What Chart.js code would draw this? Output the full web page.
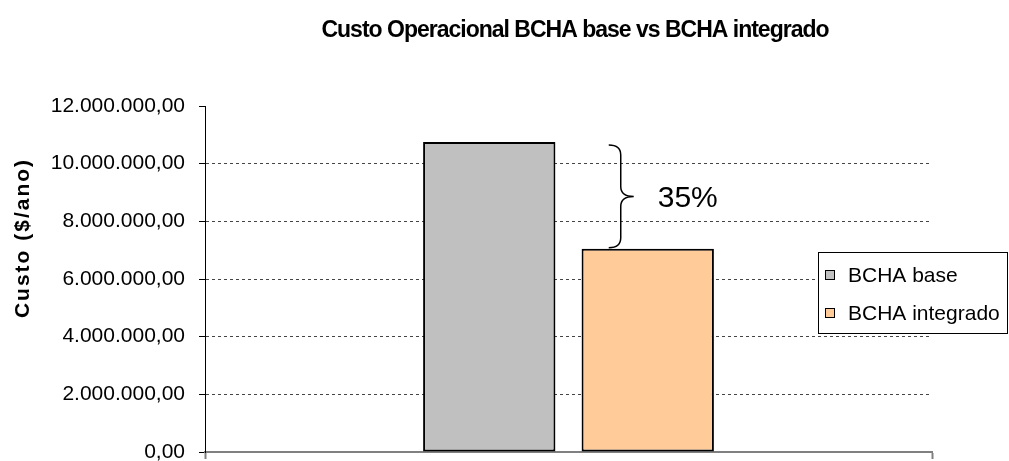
<!DOCTYPE html>
<html>
<head>
<meta charset="utf-8">
<script src="https://cdn.jsdelivr.net/npm/chart.js@4"></script>
<style>
    html, body { margin: 0; padding: 0; background: #fff; }
    #wrap { width: 1009px; height: 461px; position: relative; }
</style>
</head>
<body>
<div id="wrap"><canvas id="chart" width="1009" height="461"></canvas></div>
<script>
// ---- Data ----
const categories = [''];
const seriesNames = ['BCHA base', 'BCHA integrado'];
const baseValues = [10750000];
const integradoValues = [7050000];
const yTicks = [0, 2000000, 4000000, 6000000, 8000000, 10000000, 12000000];
const reductionLabel = '35%';

const chartTitle = 'Custo Operacional BCHA base vs BCHA integrado';
const yAxisTitle = 'Custo ($/ano)';

const FONT = "'Liberation Sans', Arial, sans-serif";

// pt-BR style number: 12.000.000,00
function formatBR(v) {
    const parts = Number(v).toFixed(2).split('.');
    const intPart = parts[0].replace(/\B(?=(\d{3})+(?!\d))/g, '.');
    return intPart + ',' + parts[1];
}

// ---- Title, axis title, brace and legend drawn on top ----
const decorations = {
    id: 'decorations',
    afterDraw(chart) {
        const ctx = chart.ctx;
        ctx.save();

        // chart title
        ctx.fillStyle = '#000';
        ctx.font = 'bold 23px ' + FONT;
        ctx.letterSpacing = '-1px';
        ctx.textAlign = 'center';
        ctx.textBaseline = 'middle';
        ctx.fillText(chartTitle, 575, 31);

        // y axis title
        ctx.save();
        ctx.translate(23, 238);
        ctx.rotate(-Math.PI / 2);
        ctx.font = 'bold 21px ' + FONT;
        ctx.letterSpacing = '2px';
        ctx.fillText(yAxisTitle, 0, 0);
        ctx.restore();
        ctx.letterSpacing = '0px';

        // brace between the two bars
        const b1 = chart.getDatasetMeta(0).data[0];
        const b2 = chart.getDatasetMeta(1).data[0];
        const x0 = b2.x - 39;
        const xs = x0 + 12;
        const xt = x0 + 25;
        const yTop = b1.y + 3;
        const yBot = b2.y - 1;
        const yMid = (yTop + yBot) / 2;
        ctx.strokeStyle = '#000';
        ctx.lineWidth = 1.5;
        ctx.beginPath();
        ctx.moveTo(x0, yTop);
        ctx.quadraticCurveTo(xs, yTop, xs, yTop + 10);
        ctx.lineTo(xs, yMid - 10);
        ctx.quadraticCurveTo(xs, yMid, xt, yMid);
        ctx.quadraticCurveTo(xs, yMid, xs, yMid + 10);
        ctx.lineTo(xs, yBot - 10);
        ctx.quadraticCurveTo(xs, yBot, x0, yBot);
        ctx.stroke();

        ctx.font = '30px ' + FONT;
        ctx.textAlign = 'left';
        ctx.fillText(reductionLabel, xt + 24, yMid + 2);

        // legend box
        const lx = 818, ly = 252, lw = 189, lh = 81;
        ctx.lineWidth = 1;
        ctx.strokeStyle = '#000';
        ctx.fillStyle = '#fff';
        ctx.fillRect(lx, ly, lw, lh);
        ctx.strokeRect(lx + 0.5, ly + 0.5, lw, lh);
        chart.data.datasets.forEach((ds, i) => {
            const cy = ly + 23 + i * 38;
            ctx.fillStyle = ds.backgroundColor;
            ctx.fillRect(825, cy - 5, 10, 10);
            ctx.strokeRect(825.5, cy - 4.5, 9, 9);
            ctx.fillStyle = '#000';
            ctx.font = '21px ' + FONT;
            ctx.textAlign = 'left';
            ctx.textBaseline = 'middle';
            ctx.fillText(ds.label, 848, cy + 1);
        });

        ctx.restore();
    }
};

// ---- Chart ----
const ctx = document.getElementById('chart').getContext('2d');
new Chart(ctx, {
    type: 'bar',
    data: {
        labels: categories,
        datasets: [
            {
                label: seriesNames[0],
                data: baseValues,
                backgroundColor: '#c0c0c0',
                borderColor: '#000',
                borderWidth: 2,
                borderSkipped: false
            },
            {
                label: seriesNames[1],
                data: integradoValues,
                backgroundColor: '#ffcc99',
                borderColor: '#000',
                borderWidth: 2,
                borderSkipped: false
            }
        ]
    },
    options: {
        responsive: false,
        animation: false,
        devicePixelRatio: 1,
        layout: { padding: { top: 106, right: 77, bottom: 2, left: 0 } },
        datasets: {
            bar: { categoryPercentage: 0.436, barPercentage: 0.835 }
        },
        scales: {
            x: {
                afterFit: (scale) => {
                    scale.height = 7;
                    scale.paddingLeft = 0;
                    scale.paddingRight = 0;
                },
                grid: {
                    drawOnChartArea: false,
                    drawTicks: true,
                    tickLength: 7,
                    tickColor: '#808080',
                    tickWidth: 2
                },
                border: { display: true, color: '#808080', width: 2 },
                ticks: { display: false }
            },
            y: {
                min: 0,
                max: 12000000,
                afterBuildTicks: (scale) => {
                    scale.ticks = yTicks.map(v => ({ value: v }));
                },
                afterFit: (scale) => {
                    scale.width = 205;
                    scale.paddingTop = 0;
                    scale.paddingBottom = 0;
                },
                grid: {
                    color: (c) => (c.tick && (c.tick.value === 0 || c.tick.value === 12000000)) ? 'rgba(0,0,0,0)' : '#444',
                    lineWidth: 1,
                    tickColor: '#000',
                    tickLength: 6,
                    tickBorderDash: [],
                    drawTicks: true
                },
                border: { display: true, color: '#000', width: 1, dash: [3, 3] },
                ticks: {
                    color: '#000',
                    padding: 14,
                    font: { family: FONT, size: 21 },
                    callback: (v) => formatBR(v)
                }
            }
        },
        plugins: {
            legend: { display: false },
            title: { display: false },
            tooltip: { enabled: false }
        }
    },
    plugins: [decorations]
});
</script>
</body>
</html>
